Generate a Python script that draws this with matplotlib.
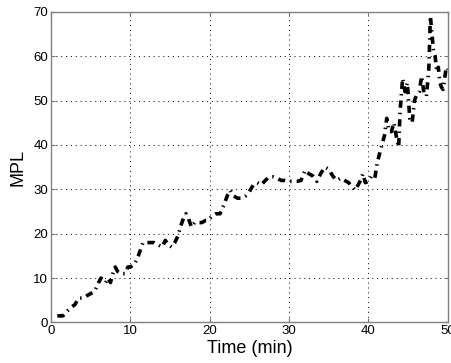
"""
MPL over time, dash-dot trace with MATLAB-like axes
"""

import matplotlib
matplotlib.use('Agg')
import matplotlib.pyplot as plt

# time (min) and MPL values
time_min = [0.8, 1.5, 2.0, 2.6, 3.0, 3.5, 4.0, 4.5, 5.0, 5.5,
            6.0, 6.3, 6.6, 6.9, 7.2, 7.5, 7.8, 8.1, 8.4, 8.8,
            9.3, 9.7, 10.0, 10.5, 11.0, 11.3, 11.6, 12.0, 12.5, 13.0,
            13.5, 14.0, 14.4, 14.8, 15.2, 15.6, 16.0, 16.4, 16.7, 17.0,
            17.3, 17.7, 18.1, 18.5, 19.0, 19.5, 19.8, 20.3, 20.8, 21.3,
            21.8, 22.2, 22.6, 23.0, 23.5, 24.0, 24.5, 25.0, 25.5, 26.0,
            26.5, 27.0, 27.5, 28.0, 28.5, 29.0, 29.5, 30.0, 30.5, 31.0,
            31.5, 32.0, 32.5, 33.0, 33.5, 34.0, 34.5, 35.0, 35.5, 36.0,
            36.5, 37.0, 37.5, 38.0, 38.3, 38.7, 39.0, 39.3, 39.6, 40.0,
            40.4, 40.8, 41.1, 41.4, 41.7, 42.0, 42.3, 42.6, 42.9, 43.2,
            43.5, 43.8, 44.0, 44.3, 44.6, 44.9, 45.2, 45.5, 45.8, 46.1,
            46.4, 46.7, 47.0, 47.3, 47.6, 47.8, 48.0, 48.2, 48.4, 48.6,
            48.8, 49.0, 49.2, 49.4, 49.6, 49.8, 50.0]
mpl = [1.5, 1.5, 2.5, 3.5, 4, 5.5, 5.5, 6, 6.5, 7,
       9, 10, 9.5, 9, 10, 9, 11, 12.5, 11.5, 11,
       11, 12.5, 12.5, 13, 15, 16.5, 18, 18, 18, 18,
       17.5, 17, 18.5, 17.5, 17, 18, 19.5, 22, 23.5, 24.5,
       23.5, 21.5, 22.5, 22.5, 22.5, 23, 23, 24, 24.5, 24.5,
       26.5, 28.5, 29.8, 28.5, 28, 28, 28.5, 29.5, 31, 31.5,
       31, 32, 32.8, 32.8, 32.5, 32, 32, 31.8, 31.8, 31.8,
       32, 34.3, 33.5, 33, 31.8, 33.6, 35, 34.5, 33, 32,
       32.5, 32, 31.5, 30.5, 29.8, 31, 32, 33.5, 31.5, 31.8,
       33, 32.5, 36, 38, 40, 42, 46, 43, 43, 45,
       42, 39.5, 48, 55, 52, 54, 46, 45, 50, 51.5,
       52, 55.5, 51.5, 51, 57, 69, 65, 61, 60, 56.5,
       57.5, 54, 53, 52.5, 55, 57.5, 57]

x_ticks = [0, 10, 20, 30, 40, 50]
y_ticks = [0, 10, 20, 30, 40, 50, 60, 70]

plt.rcParams['font.family'] = ['Liberation Sans', 'DejaVu Sans']

fig = plt.figure(figsize=(4.51, 3.63), dpi=100)
ax = fig.add_axes([0.113, 0.1116, 0.880, 0.856])

# thick dash-dot trace
ax.plot(time_min, mpl, color='black', linewidth=2.6,
        linestyle=(0, (2.0, 1.4, 0.4, 1.4)))

ax.set_xlim(0, 50)
ax.set_ylim(0, 70)
ax.set_xticks(x_ticks)
ax.set_yticks(y_ticks)
ax.tick_params(direction='in', length=3, top=True, right=True,
               labelsize=9.5, color='0.45', pad=2)
for side in ax.spines.values():
    side.set_color('0.5')
    side.set_linewidth(1.0)

ax.grid(True, linestyle=(0, (1, 4)), color='black', linewidth=0.7)

ax.set_xlabel('Time (min)', fontsize=13, labelpad=2)
ax.set_ylabel('MPL', fontsize=13, labelpad=5)

fig.savefig('out.png', dpi=100)
